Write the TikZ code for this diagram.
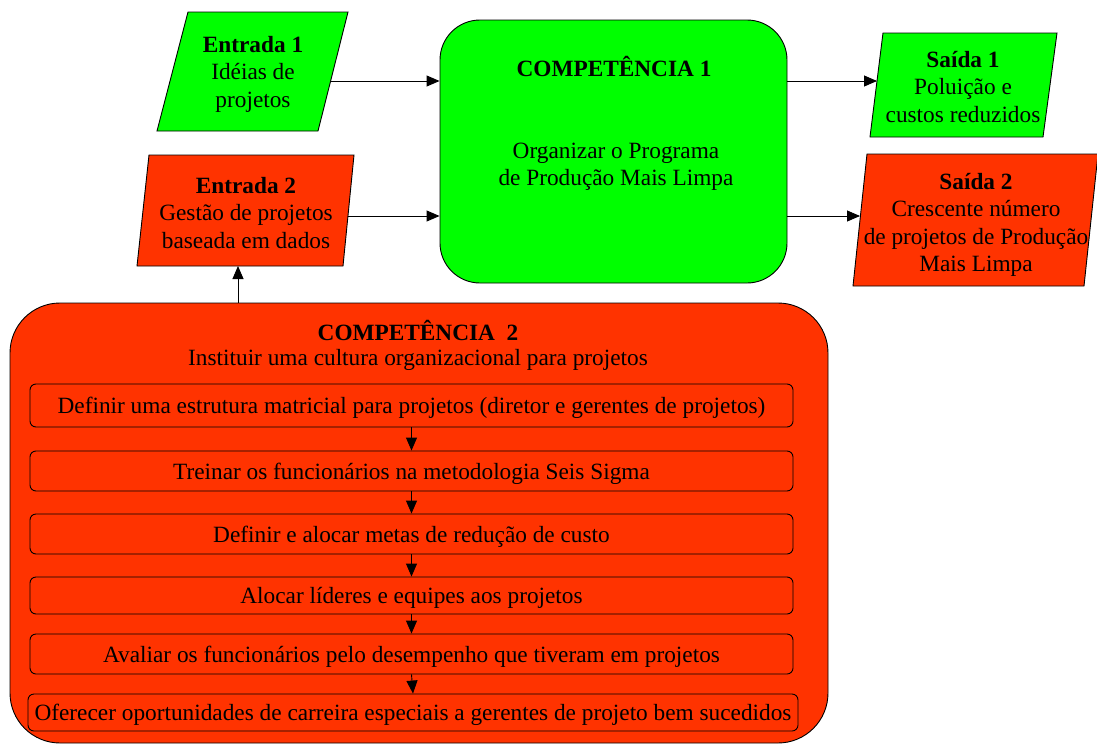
\documentclass[tikz,border=0pt]{standalone}
\usepackage{fontspec}
\setmainfont{Liberation Serif}
\usetikzlibrary{arrows.meta}
\definecolor{procgreen}{HTML}{00FF00}
\definecolor{procred}{HTML}{FF3300}
\newcommand{\bodysize}{\fontsize{23.3}{27.5}\selectfont}
\begin{document}
\begin{tikzpicture}[x=1pt,y=-1pt,
  outline/.style={draw=black, line width=0.9pt},
  arr/.style={-{Triangle[length=13pt,width=11pt]}, line width=0.9pt},
  txt/.style={align=center, font=\bodysize, inner sep=0pt},
  bigbox/.style={outline, rounded corners=#1},
  stepbox/.style={outline, fill=procred, rounded corners=6pt, inner sep=0pt,
    font=\bodysize, align=center, text depth=0pt}]
\useasboundingbox (0,0) rectangle (1097,744);

% --- Competencia 1 (central process) ---
\node[bigbox=40pt, fill=procgreen, minimum width=347pt, minimum height=263pt] (c1) at (613.5,151.5) {};
\node[txt, font=\bodysize\bfseries] (c1title) at (614,66) {COMPETÊNCIA 1};
\node[txt] (c1text) at (616,167) {Organizar o Programa\\de Produção Mais Limpa};

% --- inputs (parallelograms) ---
\filldraw[outline, fill=procgreen] (188,12) -- (348,12) -- (318,131) -- (157,131) -- cycle;
\node[txt] (e1) at (253,74) {\textbf{Entrada 1}\\Idéias de\\projetos};
\coordinate (e1out) at (331,81);

\filldraw[outline, fill=procred] (149,155) -- (354,155) -- (343,266) -- (137,266) -- cycle;
\node[txt] (e2) at (246,213) {\textbf{Entrada 2}\\Gestão de projetos\\baseada em dados};
\coordinate (e2out) at (348,216);
\coordinate (e2in) at (238,266);

% --- outputs (parallelograms) ---
\filldraw[outline, fill=procgreen] (883,33) -- (1057,33) -- (1043,137) -- (870,137) -- cycle;
\node[txt] (s1) at (963,87) {\textbf{Saída 1}\\Poluição e\\custos reduzidos};
\coordinate (s1in) at (877,81);

\filldraw[outline, fill=procred] (867,154) -- (1098,154) -- (1084,286) -- (853,286) -- cycle;
\node[txt] (s2) at (976,225) {\textbf{Saída 2}\\Crescente número\\de projetos de Produção\\Mais Limpa};
\coordinate (s2in) at (860,216);

% --- Competencia 2 (supporting culture) ---
\node[bigbox=50pt, fill=procred, minimum width=818pt, minimum height=440pt] (c2) at (419,523) {};
\node[txt, font=\bodysize\bfseries] (c2title) at (418,330) {COMPETÊNCIA~~2};
\node[txt] (c2text) at (418,360) {Instituir uma cultura organizacional para projetos};

\node[stepbox, minimum width=763pt, minimum height=43pt] (b1) at (411.5,405.5)
  {Definir uma estrutura matricial para projetos (diretor e gerentes de projetos)};
\node[stepbox, minimum width=763pt, minimum height=40pt] (b2) at (411.5,471)
  {Treinar os funcionários na metodologia Seis Sigma};
\node[stepbox, minimum width=763pt, minimum height=40pt] (b3) at (411.5,534)
  {Definir e alocar metas de redução de custo};
\node[stepbox, minimum width=763pt, minimum height=37pt] (b4) at (411.5,595.5)
  {Alocar líderes e equipes aos projetos};
\node[stepbox, minimum width=763pt, minimum height=40pt] (b5) at (411.5,654)
  {Avaliar os funcionários pelo desempenho que tiveram em projetos};
\node[stepbox, minimum width=770pt, minimum height=37pt] (b6) at (413,712.5)
  {Oferecer oportunidades de carreira especiais a gerentes de projeto bem sucedidos};

% --- connectors ---
\draw[arr] (e1out) -- (e1out -| c1.west);
\draw[arr] (e2out) -- (e2out -| c1.west);
\draw[arr] (s1in -| c1.east) -- (s1in);
\draw[arr] (s2in -| c1.east) -- (s2in);
\draw[arr] (e2in |- c2.north) -- (e2in);
\draw[arr] (b1.south) -- (b2.north);
\draw[arr] (b2.south) -- (b3.north);
\draw[arr] (b3.south) -- (b4.north);
\draw[arr] (b4.south) -- (b5.north);
\draw[arr] (b5.south) -- (b6.north);
\end{tikzpicture}
\end{document}
